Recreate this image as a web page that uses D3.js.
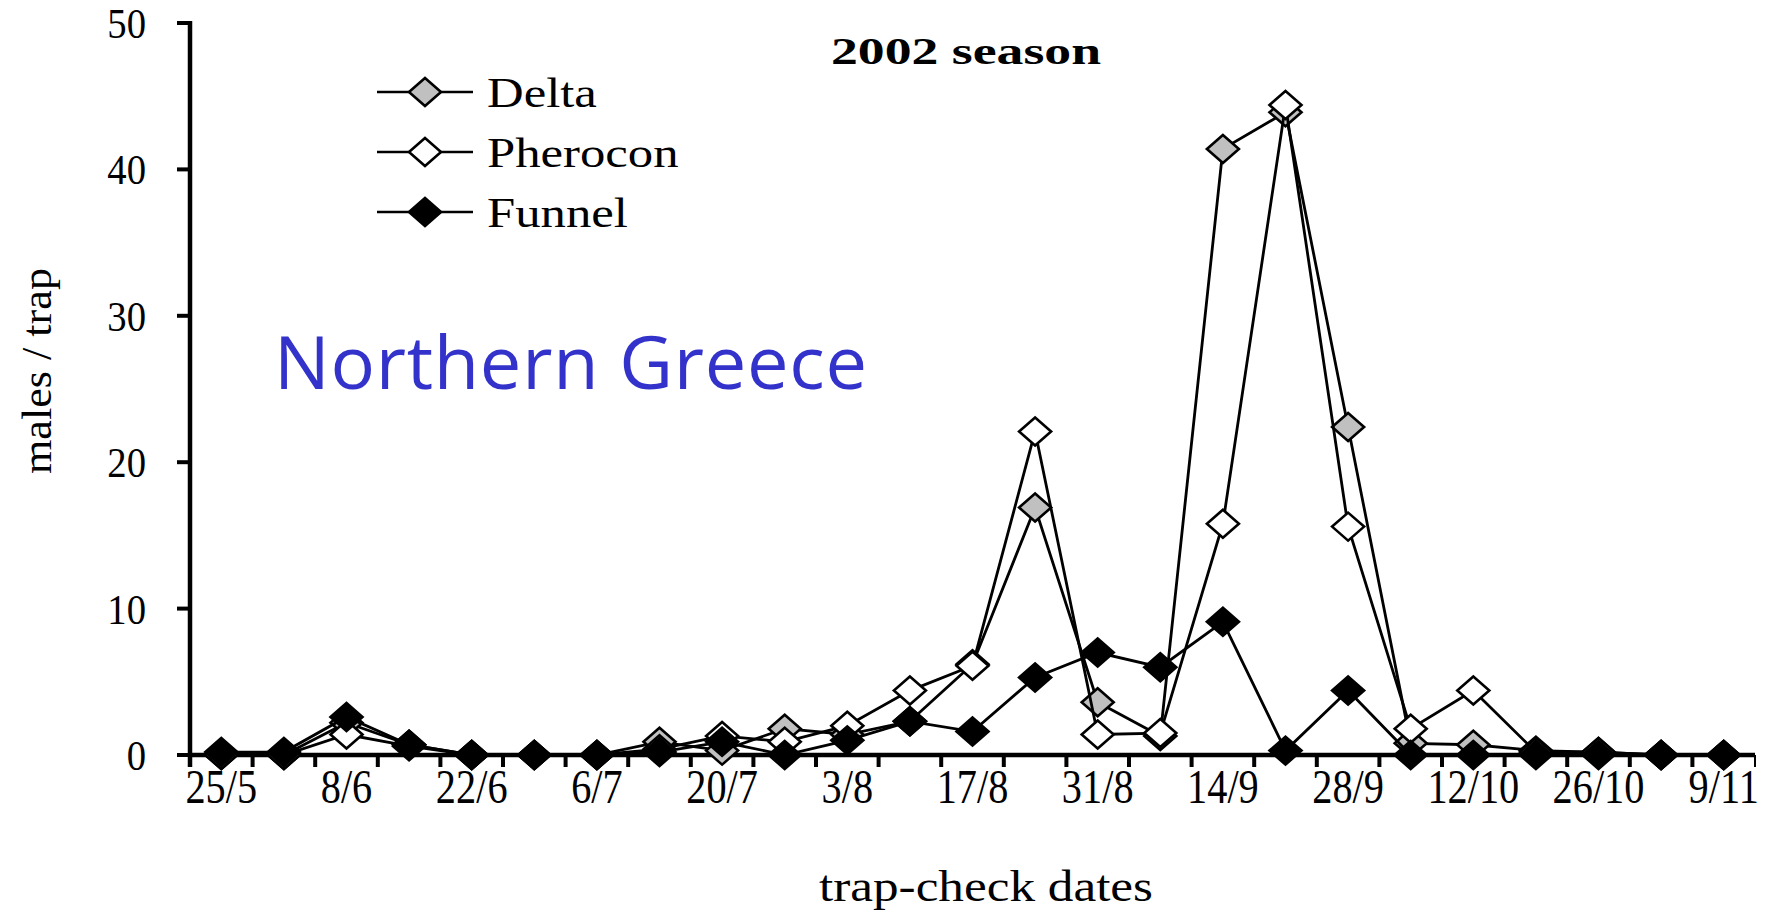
<!DOCTYPE html>
<html>
<head>
<meta charset="utf-8">
<script src="https://cdn.jsdelivr.net/npm/d3@7"></script>
<style>
  body { margin: 0; background: #fff; }
  svg { display: block; }
</style>
</head>
<body>
<script>
// trap-check dates (weekly), labels shown every second week
var dates = ["25/5","1/6","8/6","15/6","22/6","29/6","6/7","13/7","20/7","27/7","3/8","10/8","17/8",
             "24/8","31/8","7/9","14/9","21/9","28/9","5/10","12/10","19/10","26/10","2/11","9/11"];
var delta    = [0, 0, 2.2, 0.7, 0, 0, 0, 0.9, 0.3, 1.8, 1.4, 2.3, 6.2, 16.9, 3.6, 1.3, 41.4, 43.9, 22.4, 0.8, 0.7, 0.3, 0.2, 0, 0];
var pherocon = [0, 0, 1.4, 0.6, 0, 0, 0, 0.4, 1.3, 0.9, 2.0, 4.4, 6.1, 22.1, 1.4, 1.5, 15.8, 44.4, 15.6, 1.8, 4.4, 0.2, 0.2, 0, 0];
var funnel   = [0.2, 0.2, 2.6, 0.7, 0, 0, 0, 0.2, 0.9, 0, 1.0, 2.3, 1.6, 5.3, 7.0, 6.0, 9.1, 0.3, 4.4, 0, 0, 0, 0, 0, 0];
var yTicks = [0, 10, 20, 30, 40, 50];
var seriesNames = ["Delta", "Pherocon", "Funnel"];
var seriesFills = ["#c0c0c0", "#ffffff", "#000000"];

var width = 1766, height = 911;
var serif = "'Liberation Serif', 'Times New Roman', serif";

var svg = d3.select("body").append("svg")
  .attr("width", width)
  .attr("height", height);

var x = d3.scaleBand().domain(dates).range([190, 1755]);
var y = d3.scaleLinear().domain([0, 50]).range([755, 23]);
var cx = function(d, i) { return x(dates[i]) + x.bandwidth() / 2; };

// diamond marker, a bit wider than tall like the original
function diamond(w, h) {
  return "M0," + (-h) + "L" + w + ",0L0," + h + "L" + (-w) + ",0Z";
}

// y axis
var yAxis = svg.append("g")
  .attr("transform", "translate(190,0)")
  .call(d3.axisLeft(y).tickValues(yTicks).tickSize(13).tickPadding(0));
yAxis.select(".domain").remove();
yAxis.selectAll("line").attr("stroke", "#000").attr("stroke-width", 4);
// narrow numerals as in the source picture
yAxis.selectAll("text")
  .attr("x", null).attr("dy", null)
  .attr("transform", function(d) { return "translate(-44," + (y(d) + 15) + ") scale(0.9,1)"; })
  .attr("fill", "#000")
  .style("font-family", serif)
  .style("font-size", "43px");
yAxis.selectAll(".tick").attr("transform", null);
yAxis.selectAll(".tick line")
  .attr("transform", function(d) { return "translate(0," + y(d) + ")"; });

svg.append("line")
  .attr("x1", 190).attr("x2", 190)
  .attr("y1", y(50) - 2).attr("y2", 767)
  .attr("stroke", "#000").attr("stroke-width", 4.5);

// x axis, ticks on category boundaries
svg.append("line")
  .attr("x1", 188).attr("x2", 1755)
  .attr("y1", y(0)).attr("y2", y(0))
  .attr("stroke", "#000").attr("stroke-width", 4.5);

var bounds = d3.range(dates.length + 1).map(function(k) { return x.range()[0] + k * x.step(); });
svg.append("g").selectAll("line")
  .data(bounds)
  .enter().append("line")
  .attr("x1", function(d) { return d; })
  .attr("x2", function(d) { return d; })
  .attr("y1", y(0))
  .attr("y2", 767)
  .attr("stroke", "#000")
  .attr("stroke-width", function(d, k) { return k == dates.length ? 2 : 4; });

svg.append("g").selectAll("text")
  .data(dates.filter(function(d, i) { return i % 2 == 0; }))
  .enter().append("text")
  .attr("transform", function(d) { return "translate(" + (x(d) + x.bandwidth() / 2) + ",803) scale(0.84,1)"; })
  .attr("text-anchor", "middle")
  .style("font-family", serif)
  .style("font-size", "48px")
  .text(function(d) { return d; });

// series
var line = d3.line()
  .x(cx)
  .y(function(d) { return y(d); });

[delta, pherocon, funnel].forEach(function(vals, s) {
  var g = svg.append("g");
  g.append("path")
    .attr("d", line(vals))
    .attr("fill", "none")
    .attr("stroke", "#000")
    .attr("stroke-width", 2.8);
  g.selectAll("path.m")
    .data(vals)
    .enter().append("path")
    .attr("class", "m")
    .attr("d", diamond(16, 14))
    .attr("transform", function(d, i) { return "translate(" + cx(d, i) + "," + y(d) + ")"; })
    .attr("fill", seriesFills[s])
    .attr("stroke", "#000")
    .attr("stroke-width", 2.6);
});

// legend
var legend = svg.append("g").selectAll("g")
  .data(seriesNames)
  .enter().append("g")
  .attr("transform", function(d, i) { return "translate(0," + (92 + i * 60) + ")"; });
legend.append("line")
  .attr("x1", 377).attr("x2", 473)
  .attr("stroke", "#000").attr("stroke-width", 2.6);
legend.append("path")
  .attr("d", diamond(16, 14))
  .attr("transform", "translate(425,0)")
  .attr("fill", function(d, i) { return seriesFills[i]; })
  .attr("stroke", "#000").attr("stroke-width", 2.6);
legend.append("text")
  .attr("transform", "translate(487,15) scale(1.18,1)")
  .style("font-family", serif)
  .style("font-size", "43px")
  .text(function(d) { return d; });

// titles
svg.append("text")
  .attr("x", 831).attr("y", 64)
  .attr("textLength", 270)
  .attr("lengthAdjust", "spacingAndGlyphs")
  .style("font-family", serif)
  .style("font-weight", "bold")
  .style("font-size", "38px")
  .text("2002 season");

svg.append("text")
  .attr("x", 819).attr("y", 901)
  .attr("textLength", 334)
  .attr("lengthAdjust", "spacingAndGlyphs")
  .style("font-family", serif)
  .style("font-size", "45px")
  .text("trap-check dates");

svg.append("text")
  .attr("transform", "translate(51,371) rotate(-90)")
  .attr("text-anchor", "middle")
  .attr("textLength", 206)
  .attr("lengthAdjust", "spacingAndGlyphs")
  .style("font-family", serif)
  .style("font-size", "43px")
  .text("males / trap");

svg.append("text")
  .attr("x", 274).attr("y", 389)
  .attr("textLength", 593)
  .attr("fill", "#3333cc")
  .style("font-family", "'Comic Sans MS', 'Open Sans', sans-serif")
  .style("font-size", "74px")
  .text("Northern Greece");
</script>
</body>
</html>
